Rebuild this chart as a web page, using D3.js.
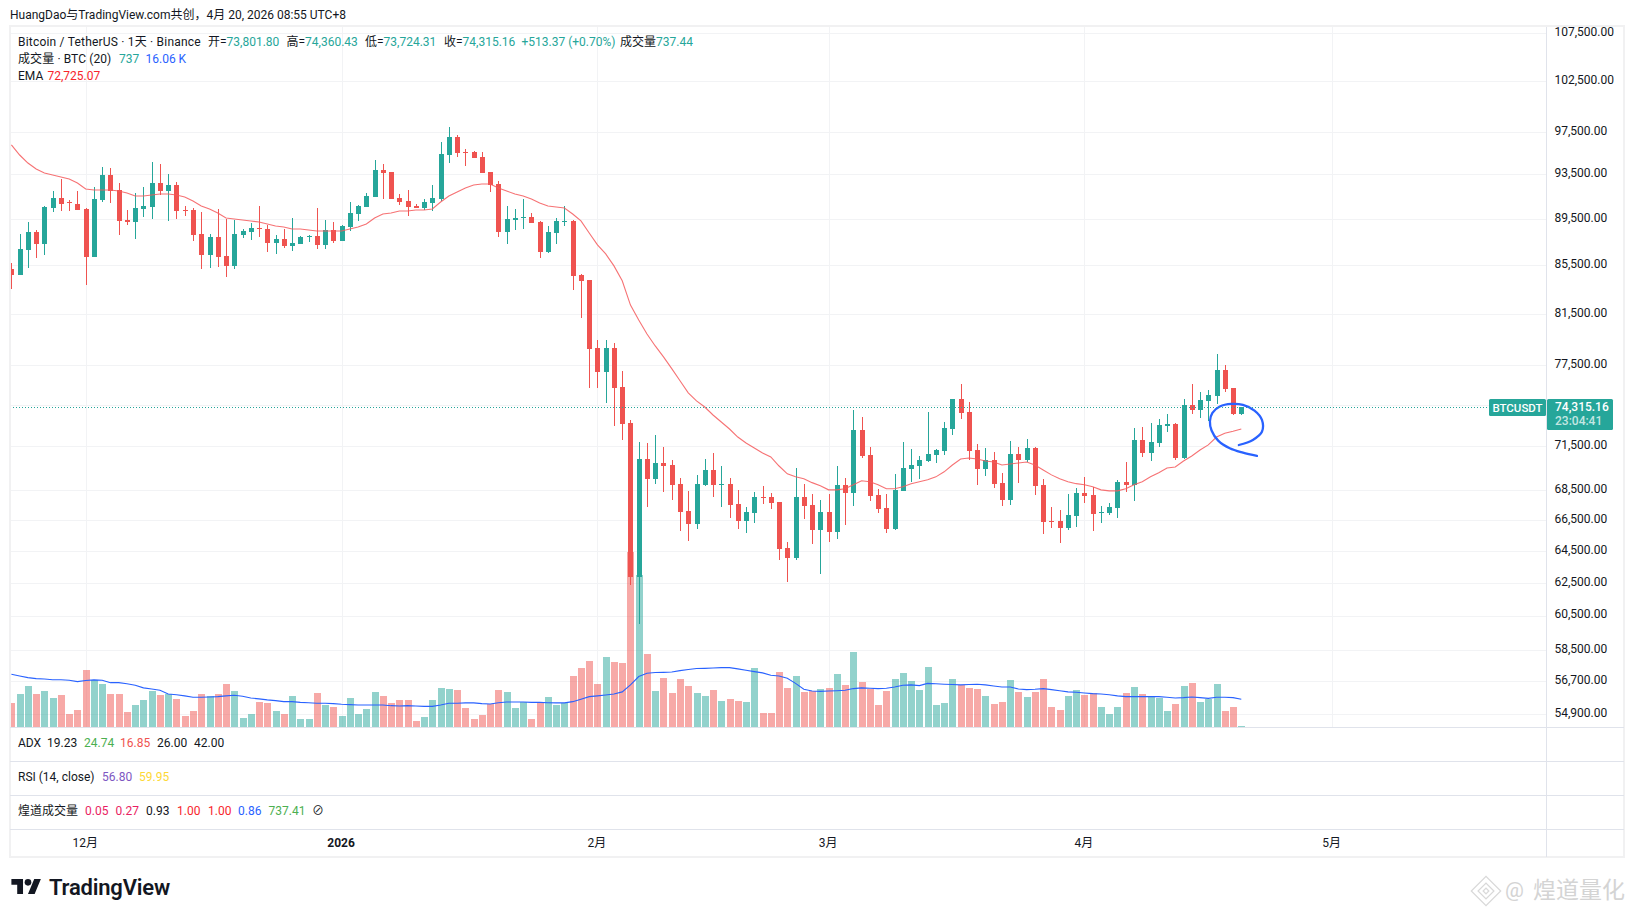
<!DOCTYPE html>
<html><head><meta charset="utf-8">
<script src="https://cdn.jsdelivr.net/npm/d3@7"></script>
<style>
html,body{margin:0;padding:0;background:#fff}
svg{display:block}
text{font-family:Roboto,"Noto Sans CJK SC",sans-serif;fill:#131722;font-size:12px}
</style></head><body><svg id="c" width="1634" height="917"></svg>
<script>
const opens=[85180,84680,86785,88339,87300,90454,91350,90990,90811,90365,
86190,91170,93443,92071,89391,89215,90365,90543,92709,91981,
92526,90276,90276,88165,86360,87904,86275,85430,88078,88339,
88688,88600,87387,87731,87129,87300,87904,87991,87215,88513,
87559,88776,89921,90543,91440,93905,93720,91350,91080,90633,
90454,90901,91260,95306,97016,95590,95590,95118,93720,92617,
88339,89391,89567,89655,89215,86615,88252,89215,89303,84680,
84265,78784,76970,78784,75820,73163,62850,70610,69240,70330,
70190,68910,67075,66210,68840,69850,68840,68910,67545,66410,
66945,68015,68015,67680,64675,64040,68015,67475,65830,67010,
65700,68840,68290,72640,70890,68150,67280,65895,68420,69915,
70120,70470,70890,71170,72720,74915,73965,71240,69915,70540,
68980,67811,70960,70540,71380,68840,66410,66410,65960,66745,
68290,68150,66945,66945,67280,69045,68840,71950,71030,71735,
72947,73090,70680,74475,74110,74770,75140,77120,75745,73801.8];
const closes=[84680,86871,88339,87300,90543,91350,90811,90901,90276,86190,
91260,93443,91981,89303,89215,90454,90633,92709,91981,92526,
90187,90187,88078,86360,87904,86190,85430,88165,88426,88688,
88600,87387,87731,87129,87387,87904,87991,87215,88513,87559,
88863,90010,90633,91530,93905,93627,91260,90990,90543,90454,
90990,91350,95400,97016,95495,95495,95024,93627,92526,88339,
89479,89567,89655,89127,86615,88339,89303,89303,84600,84180,
78706,76970,78784,75745,73090,62850,70610,69240,70330,70120,
68840,67010,66210,68910,69850,68840,68910,67475,66410,67010,
68015,67945,67610,64610,64040,68015,67410,65830,67010,65700,
68840,68290,72640,70820,68085,67210,65895,68490,69985,70190,
70540,70960,71240,72800,74915,73880,71170,69915,70540,68910,
67811,70960,70540,71380,68775,66345,66345,65960,66810,68290,
68085,66880,67010,67344,69045,68840,71950,71030,71805,73020,
73090,70680,74475,74110,74843,75215,77120,75670,73801.8,74315.16];
const highs=[85660,88165,89215,88513,90633,91981,93075,91170,91981,90454,
92344,94183,94090,92709,90276,91800,92344,94649,94462,93535,
92800,90633,90454,90098,88165,90365,89479,89391,88600,89127,
90633,88951,88078,88600,89567,87991,88078,90454,89391,89215,
88951,90990,90722,91800,94836,94462,93720,91710,92071,90811,
91260,92526,96538,97977,97208,95875,95685,95590,93720,92891,
90633,90365,91260,90010,89303,88863,89567,90633,89391,84765,
84265,79410,79410,79180,77045,73380,71805,71735,72295,71450,
70540,69310,68420,69510,70610,71030,70120,69310,68490,67344,
68360,68775,68290,67680,65060,69985,68910,68220,67811,68220,
70120,69310,74110,73600,71450,68560,68220,69580,71805,71310,
70820,73965,71310,73235,74915,76050,74695,71665,71380,71100,
69650,71875,71450,72015,71450,69240,67344,67140,68220,68640,
69375,68705,67410,67610,69175,70400,72800,72875,73163,73450,
73810,73163,74915,76050,75445,75595,78320,77480,75745,74360.43];
const lows=[83540,84680,85260,86105,86360,90098,90187,90187,90276,83850,
86190,90990,90901,88078,88951,87731,89655,89479,91620,89303,
89479,89744,87559,85180,85260,85345,84515,85180,87818,87645,
87904,86615,86445,86957,86700,87300,87473,86871,86871,87387,
87559,88426,89303,90543,91440,91260,91260,90722,89744,90454,
90276,90187,91080,94556,95118,94276,95024,93627,91890,87904,
87300,88513,88600,89127,86105,86530,87300,88863,83435,81150,
75745,75745,74620,72947,71950,62356,60002,67344,68910,68360,
67811,65765,65120,65895,68775,68015,67344,66610,65895,65635,
66280,67545,67210,63910,62545,63910,66545,64930,63040,65060,
65250,66145,67410,70680,67745,66945,65635,65830,68420,69045,
69240,70400,70330,70890,72295,73450,70540,68840,69445,68640,
67410,67475,68980,70400,68150,65570,65960,64995,65830,66020,
67610,65765,66280,66810,66610,68360,67745,70750,70470,71450,
72500,70540,70610,73810,73525,73308,74547,75445,73745,73724.31];
const volumes=[14.0,19.1,23.7,19.1,20.8,16.8,18.5,7.6,9.9,32.9,
27.2,24.9,19.1,19.1,8.8,12.8,15.7,20.8,18.5,19.1,
16.3,6.5,9.4,19.1,18.0,19.1,24.9,20.8,5.4,7.6,
14.5,14.0,9.4,7.6,18.0,4.8,4.8,19.7,12.8,11.7,
6.5,16.8,7.6,10.5,20.3,18.0,14.0,15.7,15.7,3.6,
5.9,15.7,22.6,22.0,21.4,11.1,4.8,7.1,13.4,21.4,
20.3,11.1,14.5,4.8,14.5,17.4,12.8,14.0,29.4,34.0,
38.0,24.9,40.3,37.5,36.9,100.6,87.4,42.1,20.8,28.3,
19.7,27.7,23.7,19.7,18.0,21.4,15.1,16.3,15.1,14.5,
34.0,8.2,8.2,31.7,22.6,29.4,20.3,20.8,22.0,22.6,
30.6,24.3,43.2,26.0,22.0,12.8,20.8,27.7,31.2,26.6,
21.4,34.6,12.8,14.0,27.7,24.3,22.6,22.0,18.0,13.4,
14.5,27.2,20.3,17.4,20.3,27.7,11.7,9.9,18.0,21.4,
18.5,19.7,11.7,7.6,11.7,19.7,23.1,19.1,18.0,16.8,
9.4,13.4,23.7,25.4,14.5,16.3,24.9,9.4,11.7,0.737];
const volumeMA=[30.4,29.4,28.5,27.9,27.7,27.3,27.3,27.0,26.2,26.8,
27.2,27.0,25.6,25.6,25.0,24.1,22.6,22.0,21.2,19.1,
18.7,18.0,17.2,17.2,17.4,17.6,18.0,18.4,17.8,16.8,
16.3,15.7,15.3,14.7,14.7,14.3,14.1,13.8,13.8,13.6,
13.2,13.0,12.8,12.8,12.8,12.8,12.4,12.2,12.4,12.2,
12.0,12.0,12.8,13.8,13.8,14.0,14.0,13.6,13.4,14.1,
14.5,14.5,14.5,14.3,14.3,14.1,14.0,14.0,14.7,16.1,
17.6,18.0,18.5,19.1,20.3,24.3,29.1,31.0,31.4,31.5,
31.7,32.5,33.1,33.7,33.8,34.0,34.2,34.2,33.5,32.7,
31.9,31.2,29.8,29.4,28.1,25.2,21.8,20.8,20.6,20.8,
21.0,21.2,22.2,22.6,22.4,22.2,22.4,23.1,24.1,24.3,
23.9,25.2,25.0,24.7,24.5,24.3,24.5,24.7,24.3,23.7,
23.1,23.1,22.0,21.6,21.8,22.2,21.6,21.0,20.3,20.1,
19.7,19.3,19.1,18.7,18.0,17.6,17.6,17.6,17.6,17.6,
17.2,16.8,17.0,17.4,17.0,16.6,17.2,17.2,17.0,16.06];
const ema=[96255,95306,94556,93998,93627,93443,93259,93075,92709,92162,
92071,92071,92071,91981,91800,91530,91530,91620,91710,91710,
91620,91440,91080,90633,90365,90010,89567,89479,89391,89303,
89215,89039,88863,88776,88600,88600,88513,88426,88426,88426,
88426,88600,88776,89039,89567,89921,90010,90187,90187,90276,
90276,90365,90990,91530,91890,92253,92526,92617,92617,92253,
91981,91710,91530,91260,90901,90633,90543,90454,89921,89303,
88252,87215,86445,85430,84180,82190,80990,79880,78940,78090,
77190,76280,75370,74770,74325,73740,73235,72730,72155,71735,
71380,71030,70750,70120,69580,69375,69240,68980,68775,68490,
68490,68560,68840,69110,69045,68840,68560,68560,68705,68910,
69045,69175,69375,69720,70190,70610,70680,70610,70470,70400,
70190,70260,70330,70400,70190,69850,69510,69240,69045,68910,
68840,68705,68490,68420,68420,68560,68840,69045,69375,69650,
69985,70050,70470,70820,71240,71595,72155,72430,72570,72725.07];
const annotationDay=[150.9,149.2,147.6,146.2,145.4,145.2,145.5,146.4,147.8,149.2,150.6,151.5,151.5,150.4,148.7];
const annotationPrice=[70820,71050,71360,71900,72620,73285,73900,74355,74547,74475,74060,73380,72530,71950,71590];
const priceTicks=[107500,102500,97500,93500,89500,85500,81500,77500,71500,68500,66500,64500,62500,60500,58500,56700,54900];
const priceGridExtra=[74500];
const monthDays=[9,40,71,99,130,160];
const monthLabels=["12月","2026","2月","3月","4月","5月"];
const lastPrice=74315.16;

const GREEN="#26a69a",RED="#ef5350",BLUE="#2962ff",SEP="#e0e3eb",GRID="#f2f3f5";
const L=10,R=1546.5,T=27,B=727;
const svg=d3.select("#c");
svg.append("rect").attr("width",1634).attr("height",917).attr("fill","#fff");
const x=d3.scaleLinear().domain([0,149]).range([11.4,1241.3]);
const y=d3.scaleLog().domain([54900,107500]).range([714,33]);
const v=d3.scaleLinear().domain([0,100]).range([727.3,552.9]);
const defs=svg.append("defs");
defs.append("clipPath").attr("id","pane").append("rect").attr("x",L).attr("y",T).attr("width",R-L).attr("height",B-T);

// grid
const grid=svg.append("g").attr("shape-rendering","crispEdges").attr("stroke",GRID);
grid.selectAll("line.h").data(priceTicks.concat(priceGridExtra)).join("line").attr("class","h")
 .attr("x1",L).attr("x2",R).attr("y1",d=>Math.round(y(d))).attr("y2",d=>Math.round(y(d)));
grid.selectAll("line.v").data(monthDays).join("line").attr("class","v")
 .attr("x1",d=>Math.round(x(d))).attr("x2",d=>Math.round(x(d))).attr("y1",T).attr("y2",B);

const pane=svg.append("g").attr("clip-path","url(#pane)");
const days=d3.range(opens.length);
const up=i=>closes[i]>=opens[i];
// volume
pane.append("g").attr("shape-rendering","crispEdges").selectAll("rect").data(days).join("rect")
 .attr("x",i=>Math.round(x(i))-3).attr("width",7)
 .attr("y",i=>v(volumes[i])).attr("height",i=>v(0)-v(volumes[i]))
 .attr("fill",i=>up(i)?GREEN:RED).attr("opacity",0.5);
// vol MA
pane.append("path").attr("fill","none").attr("stroke",BLUE).attr("stroke-width",1.1)
 .attr("d",d3.line().x(i=>x(i)).y(i=>v(volumeMA[i]))(days));
// candles
const cg=pane.append("g").attr("shape-rendering","crispEdges");
cg.selectAll("line").data(days).join("line")
 .attr("x1",i=>Math.round(x(i))+0.5).attr("x2",i=>Math.round(x(i))+0.5)
 .attr("y1",i=>Math.round(y(highs[i]))).attr("y2",i=>Math.round(y(lows[i])))
 .attr("stroke",i=>up(i)?GREEN:RED);
cg.selectAll("rect").data(days).join("rect")
 .attr("x",i=>Math.round(x(i))-2).attr("width",5)
 .attr("y",i=>Math.round(y(Math.max(opens[i],closes[i]))))
 .attr("height",i=>Math.max(1,Math.round(y(Math.min(opens[i],closes[i])))-Math.round(y(Math.max(opens[i],closes[i])))))
 .attr("fill",i=>up(i)?GREEN:RED);
// EMA
pane.append("path").attr("fill","none").attr("stroke","#f4595c").attr("stroke-width",1.1).attr("opacity",.85)
 .attr("d",d3.line().x(i=>x(i)).y(i=>y(ema[i]))(days));
// last price
svg.append("line").attr("x1",L).attr("x2",1489).attr("y1",Math.round(y(lastPrice))+.5).attr("y2",Math.round(y(lastPrice))+.5)
 .attr("stroke",GREEN).attr("stroke-dasharray","1 2");
// annotation
pane.append("path").attr("fill","none").attr("stroke",BLUE).attr("stroke-width",2.3).attr("stroke-linecap","round")
 .attr("d",d3.line().curve(d3.curveCatmullRom).x(d=>x(d[0])).y(d=>y(d[1]))(annotationDay.map((d,i)=>[d,annotationPrice[i]])));

// frame & separators
const fr=svg.append("g").attr("shape-rendering","crispEdges");
fr.append("rect").attr("x",10).attr("y",26).attr("width",1614).attr("height",831).attr("fill","none").attr("stroke","#f1f1f2").attr("stroke-width",2);
[727,761,795,829].forEach(s=>fr.append("line").attr("x1",L).attr("x2",1624).attr("y1",s+.5).attr("y2",s+.5).attr("stroke",SEP));
fr.append("line").attr("x1",1546.5).attr("x2",1546.5).attr("y1",T).attr("y2",857).attr("stroke",SEP);

// axes
const ay=svg.append("g").attr("transform","translate(1547,0)")
 .call(d3.axisRight(y).tickValues(priceTicks).tickSize(0).tickPadding(7.5).tickFormat(d3.format(",.2f")));
ay.select(".domain").remove();
ay.selectAll("text").attr("dy","0.2em").style("font-size","12px").style("font-family",'Roboto,"Noto Sans CJK SC"').style("fill","#131722");
const ax=svg.append("g").attr("transform","translate(-1,838)")
 .call(d3.axisBottom(x).tickValues(monthDays).tickSize(0).tickPadding(0).tickFormat((d,i)=>monthLabels[i]));
ax.select(".domain").remove();
ax.selectAll("text").attr("dy","0.71em").style("font-size","12px").style("font-family",'Roboto,"Noto Sans CJK SC"').style("fill","#131722")
 .style("font-weight",(d,i)=>monthLabels[i]==="2026"?"700":"400");

// badges
svg.append("rect").attr("x",1489).attr("y",399).attr("width",57).attr("height",17).attr("rx",1.5).attr("fill",GREEN);
svg.append("text").attr("x",1517.5).attr("y",412).attr("text-anchor","middle").text("BTCUSDT").style("fill","#fff").style("font-weight",500).style("font-size","11.5px");
svg.append("rect").attr("x",1547).attr("y",399).attr("width",66).attr("height",31).attr("rx",1.5).attr("fill",GREEN);
svg.append("text").attr("x",1555).attr("y",411).text(d3.format(",.2f")(lastPrice)).style("fill","#fff").style("font-weight",500);
svg.append("text").attr("x",1555).attr("y",425).text("23:04:41").style("fill","#c4e6e2").style("font-weight",500);

// text helper
function T1(xp,yp,parts,spacing){
  const t=svg.append("text").attr("x",xp).attr("y",yp+1).attr("dominant-baseline","middle");
  if(spacing)t.style("letter-spacing",spacing);
  parts.forEach(p=>t.append("tspan").text(p[0]).style("fill",p[1]||"#131722"));
  return t;
}
const TV="#26a69a";
T1(10,15,[["HuangDao与TradingView.com共创，4月 20, 2026 08:55 UTC+8"]]);
T1(18,42,[["Bitcoin / TetherUS · 1天 · Binance"]],"0.2px");
T1(208,42,[["开="],["73,801.80",TV]]);
T1(286.5,42,[["高="],["74,360.43",TV]]);
T1(365,42,[["低="],["73,724.31",TV]]);
T1(444,42,[["收="],["74,315.16",TV]]);
T1(521.5,42,[["+513.37 (+0.70%)",TV]]);
T1(620,42,[["成交量"],["737.44",TV]]);
T1(18,59,[["成交量 · BTC (20)"]],"0.1px");
T1(119,59,[["737",TV]]);
T1(145.5,59,[["16.06 K",BLUE]]);
T1(18,76,[["EMA"]]);
T1(47.5,76,[["72,725.07","#f7252b"]]);

T1(18,743,[["ADX"]]);T1(47,743,[["19.23"]]);T1(84,743,[["24.74","#4caf50"]]);T1(120,743,[["16.85","#ef5350"]]);T1(157,743,[["26.00"]]);T1(194,743,[["42.00"]]);
T1(18,777,[["RSI (14, close)"]]);T1(102,777,[["56.80","#7e57c2"]]);T1(139,777,[["59.95","#fdd835"]]);
T1(18,811,[["煌道成交量"]]);T1(85,811,[["0.05","#e91e63"]]);T1(115.5,811,[["0.27","#e91e63"]]);T1(146,811,[["0.93"]]);
T1(177,811,[["1.00","#f7252b"]]);T1(208,811,[["1.00","#f7252b"]]);T1(238,811,[["0.86",BLUE]]);T1(268.5,811,[["737.41","#4caf50"]]);T1(312,811,[["⊘"]]);

// TradingView logo
const logo=svg.append("g").attr("transform","translate(11.4,875.7) scale(.83)").attr("fill","#131722");
logo.append("path").attr("d","M14 22H7V11H0V4h14v18zM28 22h-8l7.5-18h8L28 22z");
logo.append("circle").attr("cx",20).attr("cy",8).attr("r",4);
svg.append("text").attr("x",49).attr("y",889).attr("dominant-baseline","middle").text("TradingView").style("font-size","22px").style("font-weight",600).style("letter-spacing","-0.2px");

// watermark
const wm=svg.append("g").attr("fill","none").attr("stroke","#d9d9d9");
[[13,1.6],[7,1.6],[2.5,1.6]].forEach(([r,w])=>wm.append("rect").attr("x",-r).attr("y",-r).attr("width",2*r).attr("height",2*r)
  .attr("stroke-width",w).attr("transform","translate(1486,891) rotate(45) scale(.8)"));
svg.append("text").attr("x",1505).attr("y",891).attr("dominant-baseline","middle").text("@").style("fill","#d4d4d4").style("font-size","21px");
svg.append("text").attr("x",1533).attr("y",892).attr("dominant-baseline","middle").text("煌道量化").style("fill","#d4d4d4").style("font-size","23px");
</script></body></html>
